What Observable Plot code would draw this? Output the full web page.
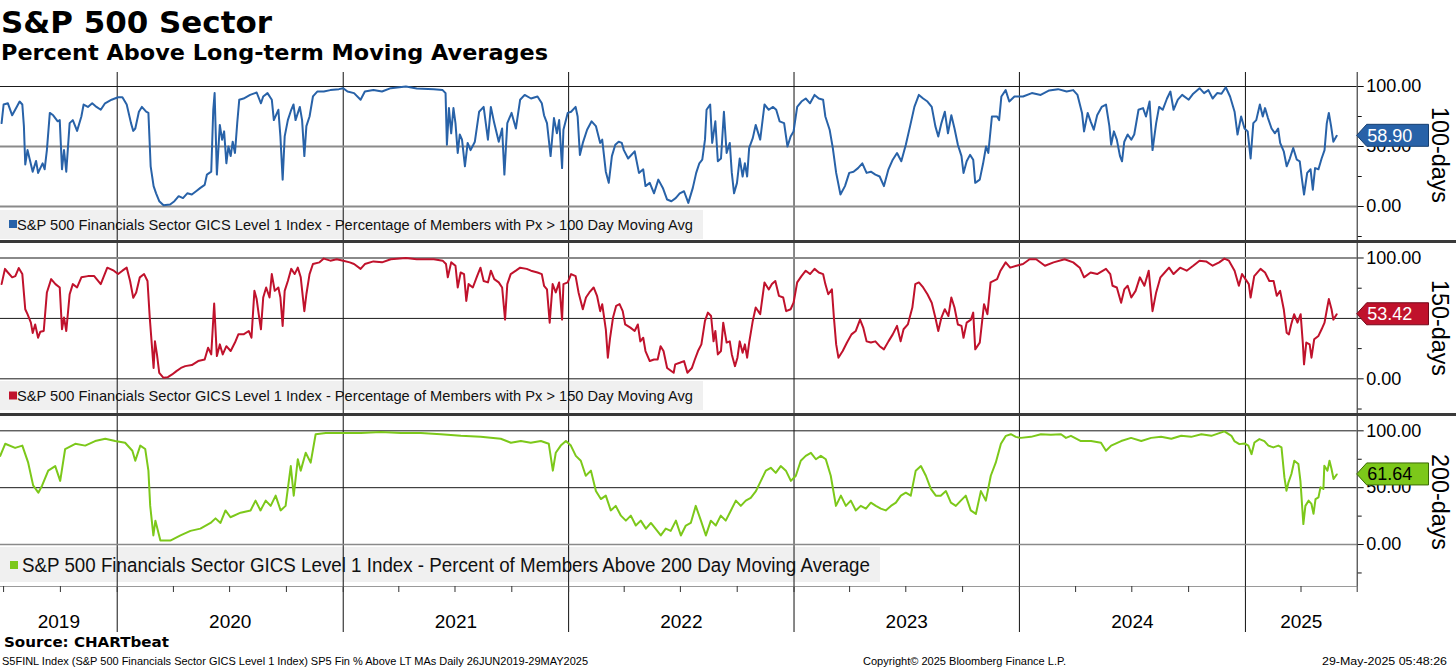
<!DOCTYPE html>
<html><head><meta charset="utf-8">
<script src="https://cdn.jsdelivr.net/npm/d3@7"></script>
<script src="https://cdn.jsdelivr.net/npm/@observablehq/plot@0.6"></script>
<style>
html,body{margin:0;padding:0;background:#fff;}
#root{position:relative;width:1456px;height:668px;overflow:hidden;background:#fff;}
#root > *{position:absolute;left:0;}
</style></head><body><div id="root"></div>
<script>
// ---- data: [decimal year, percent] ----
const s100 = [[2019.487,69.5],[2019.496,85],[2019.515,86],[2019.534,76],[2019.554,83],[2019.567,87.5],[2019.579,85],[2019.586,67],[2019.592,35],[2019.602,47],[2019.611,40],[2019.625,29],[2019.640,38],[2019.649,28],[2019.669,36],[2019.678,31],[2019.688,47],[2019.701,78],[2019.716,76],[2019.736,71],[2019.745,72],[2019.755,31],[2019.764,47],[2019.774,29],[2019.789,69.5],[2019.803,72],[2019.822,63],[2019.841,75],[2019.851,85],[2019.870,83],[2019.889,86],[2019.908,83],[2019.927,80.6],[2019.946,86],[2019.975,89],[2020.004,91],[2020.023,91],[2020.042,85],[2020.061,69.5],[2020.071,63],[2020.080,65],[2020.096,79],[2020.109,83],[2020.128,79],[2020.138,78],[2020.148,33.5],[2020.161,17],[2020.172,11],[2020.186,4.4],[2020.205,1],[2020.234,1.7],[2020.253,4.4],[2020.272,8.6],[2020.291,7],[2020.310,11],[2020.330,10],[2020.349,12.7],[2020.368,15.5],[2020.387,18],[2020.397,26.6],[2020.416,29],[2020.425,80.6],[2020.431,94.5],[2020.441,26.6],[2020.454,68],[2020.464,55.7],[2020.473,62.6],[2020.483,36],[2020.492,50],[2020.502,42],[2020.511,54],[2020.521,44.6],[2020.531,69.5],[2020.540,89],[2020.559,90],[2020.588,93],[2020.617,95],[2020.636,86],[2020.646,91.7],[2020.665,94.5],[2020.684,89],[2020.693,72],[2020.713,80.6],[2020.722,58.4],[2020.732,22.4],[2020.741,58.4],[2020.755,72],[2020.770,80.6],[2020.780,85],[2020.789,72],[2020.808,83],[2020.818,72],[2020.828,42],[2020.837,67],[2020.851,75],[2020.866,91.7],[2020.885,95.8],[2020.914,95.8],[2020.943,97],[2020.981,97.8],[2021.000,98.6],[2021.019,95.8],[2021.048,94.5],[2021.077,89],[2021.096,95.8],[2021.134,97],[2021.172,95.8],[2021.211,98.6],[2021.278,100],[2021.326,98.3],[2021.402,97.8],[2021.441,97],[2021.454,94.5],[2021.460,51.5],[2021.469,82],[2021.479,61],[2021.489,82],[2021.498,69.5],[2021.508,44.6],[2021.517,60],[2021.527,55.7],[2021.540,33.5],[2021.552,53],[2021.565,47],[2021.584,54],[2021.603,79],[2021.623,83],[2021.642,55.7],[2021.655,83],[2021.670,69.5],[2021.690,54],[2021.705,65],[2021.715,26.6],[2021.728,69.5],[2021.747,78],[2021.766,65],[2021.785,89],[2021.805,93],[2021.833,90],[2021.862,91.7],[2021.881,86],[2021.891,76],[2021.904,69.5],[2021.920,42],[2021.935,73.7],[2021.948,61],[2021.958,72],[2021.971,32],[2021.977,64],[2021.996,78],[2022.011,79],[2022.031,83],[2022.040,75],[2022.050,43],[2022.063,53],[2022.082,64],[2022.102,71],[2022.121,67],[2022.140,53],[2022.149,55.7],[2022.165,29],[2022.178,19.7],[2022.192,42],[2022.207,51.5],[2022.222,54],[2022.236,53],[2022.245,47],[2022.264,40],[2022.293,46],[2022.312,28],[2022.331,31],[2022.341,17],[2022.360,19.7],[2022.379,11],[2022.398,22.4],[2022.418,15.5],[2022.437,5.8],[2022.456,4.4],[2022.475,7],[2022.493,11],[2022.512,12.7],[2022.531,3],[2022.551,15.5],[2022.566,28],[2022.580,36],[2022.593,39],[2022.605,55.7],[2022.612,80.6],[2022.628,85],[2022.637,53],[2022.651,71],[2022.662,37.7],[2022.676,40],[2022.689,79],[2022.701,44.6],[2022.715,53],[2022.724,28],[2022.734,11],[2022.747,19.7],[2022.759,40],[2022.772,25],[2022.782,36],[2022.792,25],[2022.801,48.8],[2022.817,57],[2022.830,68],[2022.850,55.7],[2022.869,85],[2022.888,80.6],[2022.907,83],[2022.921,80.6],[2022.936,71],[2022.956,69.5],[2022.971,50],[2022.985,58.4],[2022.998,62.6],[2023.014,83],[2023.033,87.5],[2023.052,90],[2023.071,86],[2023.091,93],[2023.110,90],[2023.129,89],[2023.139,75],[2023.158,64],[2023.172,48.8],[2023.187,28],[2023.206,10],[2023.226,17],[2023.245,28],[2023.264,29],[2023.284,32],[2023.303,36],[2023.322,28],[2023.341,29],[2023.361,26.6],[2023.380,25],[2023.399,17],[2023.419,31],[2023.438,39],[2023.457,44.6],[2023.476,37.7],[2023.496,51.5],[2023.515,67],[2023.534,83],[2023.554,93],[2023.573,90],[2023.592,87.5],[2023.611,83],[2023.627,67],[2023.640,58.4],[2023.654,69.5],[2023.669,79],[2023.683,61],[2023.698,76],[2023.712,65],[2023.727,51.5],[2023.743,42],[2023.752,28],[2023.766,37.7],[2023.781,43],[2023.795,39],[2023.804,19.7],[2023.824,22.4],[2023.839,36],[2023.852,50],[2023.862,44.6],[2023.878,75],[2023.901,75],[2023.910,72],[2023.920,91.7],[2023.939,97],[2023.955,87.5],[2023.978,91.7],[2024.016,91.7],[2024.055,94.5],[2024.094,93],[2024.132,96.7],[2024.171,97.8],[2024.209,95.8],[2024.238,97],[2024.257,93],[2024.277,78],[2024.286,62.6],[2024.302,78],[2024.315,71],[2024.329,64],[2024.344,76],[2024.364,83],[2024.383,85],[2024.398,67],[2024.406,51.5],[2024.418,62.6],[2024.431,55.7],[2024.445,42],[2024.454,37.7],[2024.464,54],[2024.479,60],[2024.495,55.7],[2024.508,60],[2024.527,80.6],[2024.547,82],[2024.560,75],[2024.576,87.5],[2024.589,47],[2024.605,69.5],[2024.618,83],[2024.634,80.6],[2024.653,90],[2024.668,95.8],[2024.682,80.6],[2024.701,89],[2024.720,93],[2024.749,89],[2024.769,94],[2024.797,98.6],[2024.817,94.5],[2024.836,97],[2024.855,90],[2024.875,94.5],[2024.894,94],[2024.913,99.4],[2024.932,91.7],[2024.952,79],[2024.965,60],[2024.981,75],[2024.996,65],[2025.010,62.6],[2025.023,40],[2025.035,69.5],[2025.048,72],[2025.064,85],[2025.077,75],[2025.087,82],[2025.100,73.7],[2025.116,65],[2025.131,61],[2025.145,65],[2025.154,53],[2025.170,46],[2025.183,33.5],[2025.197,40],[2025.212,48.8],[2025.228,39],[2025.241,37.7],[2025.251,22.4],[2025.260,10],[2025.274,28],[2025.289,31],[2025.299,14],[2025.309,32],[2025.324,31],[2025.338,40],[2025.351,47],[2025.361,69.5],[2025.370,78],[2025.380,67],[2025.390,54],[2025.405,58.9]];

const s150 = [[2019.487,78.4],[2019.502,91],[2019.515,88],[2019.534,84],[2019.548,85],[2019.563,91.7],[2019.579,86.7],[2019.592,57.6],[2019.602,53.5],[2019.617,46.5],[2019.625,38],[2019.636,45],[2019.649,34],[2019.659,39],[2019.674,39.6],[2019.688,71.5],[2019.707,82.5],[2019.726,78.4],[2019.745,75.6],[2019.755,41],[2019.764,50.7],[2019.774,39.6],[2019.789,70],[2019.803,78.4],[2019.822,75.6],[2019.841,84],[2019.870,85],[2019.898,85],[2019.927,78.4],[2019.956,92],[2019.985,89.5],[2020.004,86.7],[2020.023,89.5],[2020.042,92],[2020.057,81],[2020.071,67],[2020.084,71.5],[2020.100,84],[2020.119,86.7],[2020.134,81],[2020.144,50.7],[2020.153,28.5],[2020.161,9],[2020.167,31],[2020.176,20],[2020.186,5],[2020.205,0.8],[2020.224,1.4],[2020.243,3.6],[2020.262,6.4],[2020.282,9],[2020.301,10.5],[2020.330,11.4],[2020.358,14.7],[2020.387,16],[2020.402,25.8],[2020.416,20.2],[2020.429,62.3],[2020.441,18.8],[2020.454,28.5],[2020.467,20.2],[2020.483,27],[2020.502,23],[2020.521,30],[2020.536,36.8],[2020.559,36.8],[2020.582,39.6],[2020.594,34],[2020.607,72.8],[2020.617,66],[2020.626,53.5],[2020.636,41],[2020.646,67.3],[2020.659,75.6],[2020.674,67.3],[2020.684,86.7],[2020.697,72.8],[2020.713,75.6],[2020.722,67.3],[2020.732,43.8],[2020.741,72.8],[2020.755,81],[2020.770,91],[2020.785,86.7],[2020.799,92],[2020.812,84],[2020.828,56],[2020.837,70],[2020.851,86.7],[2020.866,95],[2020.895,96.4],[2020.914,99.5],[2020.943,97.8],[2020.971,99],[2021.000,97.8],[2021.029,96.4],[2021.048,95],[2021.077,91],[2021.096,95],[2021.134,97.2],[2021.172,96.4],[2021.211,99],[2021.278,100],[2021.326,99],[2021.402,99],[2021.441,97.8],[2021.456,95],[2021.464,84],[2021.479,96.4],[2021.498,93.6],[2021.508,75.6],[2021.521,88],[2021.536,86.7],[2021.546,64.5],[2021.556,78.4],[2021.575,75.6],[2021.594,85],[2021.609,92],[2021.623,81],[2021.642,79.8],[2021.655,89.5],[2021.670,82.5],[2021.690,79.8],[2021.705,75.6],[2021.718,49],[2021.728,78.4],[2021.743,86.7],[2021.766,89.5],[2021.785,92],[2021.814,91],[2021.833,89.5],[2021.862,88],[2021.881,86.7],[2021.891,77],[2021.904,74],[2021.916,46.5],[2021.929,78.4],[2021.943,71.5],[2021.958,79.8],[2021.971,49],[2021.977,78.4],[2021.996,79.8],[2022.011,86.7],[2022.031,85],[2022.044,71.5],[2022.063,57.6],[2022.077,67.3],[2022.092,71.5],[2022.111,75.6],[2022.126,68.7],[2022.140,56],[2022.149,61.8],[2022.165,41],[2022.174,17.5],[2022.184,34],[2022.197,50.7],[2022.211,60.4],[2022.226,61.8],[2022.240,56],[2022.251,45],[2022.274,42.4],[2022.293,39.6],[2022.307,45],[2022.318,31],[2022.331,34],[2022.341,23],[2022.360,14.7],[2022.379,16],[2022.395,16],[2022.408,27],[2022.421,23],[2022.437,9],[2022.466,5],[2022.473,12],[2022.493,13.3],[2022.512,14.7],[2022.527,5],[2022.547,9],[2022.560,16],[2022.574,23],[2022.589,28.5],[2022.605,47.9],[2022.618,54.8],[2022.632,52],[2022.643,31],[2022.651,39.6],[2022.662,20.2],[2022.676,23],[2022.686,46.5],[2022.701,30],[2022.715,31],[2022.724,20.2],[2022.738,10.5],[2022.749,17.5],[2022.759,31],[2022.772,21.6],[2022.782,28.5],[2022.792,17.5],[2022.801,30],[2022.817,47.9],[2022.830,59],[2022.850,53.5],[2022.869,79.8],[2022.888,74],[2022.902,78.4],[2022.917,81],[2022.933,68.7],[2022.952,67.3],[2022.965,56],[2022.985,57.6],[2022.998,63],[2023.014,79.8],[2023.033,85],[2023.052,89.5],[2023.071,86.7],[2023.091,91],[2023.110,88],[2023.129,86.7],[2023.139,78.4],[2023.152,70],[2023.168,74],[2023.177,50.7],[2023.187,28.5],[2023.197,17.5],[2023.216,23],[2023.235,30],[2023.255,36.8],[2023.274,39.6],[2023.293,49],[2023.307,42.4],[2023.322,31],[2023.341,30],[2023.361,31],[2023.380,27],[2023.399,24.4],[2023.419,31],[2023.438,36.8],[2023.457,43.8],[2023.473,31],[2023.486,41],[2023.505,45],[2023.525,59],[2023.538,78.4],[2023.554,79.8],[2023.573,75.6],[2023.592,70],[2023.611,63],[2023.627,50.7],[2023.640,39.6],[2023.654,50.7],[2023.669,57.6],[2023.685,52],[2023.698,67.3],[2023.712,59],[2023.727,45],[2023.743,43.8],[2023.752,34],[2023.766,46.5],[2023.785,49],[2023.795,54.8],[2023.804,24.4],[2023.824,30],[2023.843,61.8],[2023.858,53.5],[2023.872,79.8],[2023.901,82.5],[2023.916,89.5],[2023.939,96.4],[2023.959,92],[2023.987,93.6],[2024.016,95],[2024.045,99],[2024.074,99],[2024.113,93.6],[2024.151,96.4],[2024.200,99],[2024.238,96.4],[2024.267,92],[2024.286,84],[2024.315,88],[2024.344,86.7],[2024.383,91],[2024.402,86.7],[2024.412,77],[2024.431,75.6],[2024.450,63],[2024.464,74],[2024.479,77],[2024.495,67.3],[2024.514,72.8],[2024.533,84],[2024.553,77],[2024.572,89.5],[2024.589,56],[2024.605,71.5],[2024.624,84],[2024.643,88],[2024.662,92],[2024.682,86.7],[2024.711,92],[2024.740,89.5],[2024.769,93.6],[2024.797,97.8],[2024.826,97.2],[2024.855,93.6],[2024.884,96.4],[2024.907,99.5],[2024.927,97.8],[2024.952,89.5],[2024.971,77],[2024.985,86.7],[2025.000,82.5],[2025.015,78.4],[2025.023,67.3],[2025.039,85],[2025.067,91],[2025.087,88],[2025.106,81],[2025.125,81],[2025.139,68.7],[2025.154,72.8],[2025.170,57.6],[2025.183,38.2],[2025.193,36.8],[2025.203,45],[2025.216,53.5],[2025.231,46.5],[2025.245,53.5],[2025.255,28.5],[2025.260,12],[2025.270,30],[2025.285,28.5],[2025.293,17.5],[2025.305,32.7],[2025.324,35.5],[2025.338,41],[2025.351,46.5],[2025.363,59],[2025.370,66],[2025.382,57.6],[2025.390,49],[2025.405,53.42]];

const s200 = [[2019.481,78],[2019.503,88.6],[2019.547,85],[2019.579,87],[2019.605,72],[2019.627,52],[2019.650,45.6],[2019.667,52],[2019.694,65],[2019.725,69],[2019.747,56],[2019.756,67.5],[2019.769,84],[2019.814,88.6],[2019.858,87],[2019.902,91],[2019.947,93],[2019.991,91],[2020.035,89.5],[2020.067,82.5],[2020.080,73.7],[2020.102,87],[2020.124,84],[2020.138,65],[2020.146,34],[2020.160,8],[2020.169,21],[2020.191,3.5],[2020.235,3.5],[2020.280,8],[2020.324,12],[2020.368,14],[2020.413,19],[2020.435,23],[2020.457,19],[2020.479,30],[2020.501,24],[2020.546,28],[2020.590,30],[2020.612,38.6],[2020.634,30],[2020.657,38.6],[2020.679,34],[2020.701,43],[2020.723,30],[2020.745,34],[2020.768,69],[2020.781,43],[2020.799,75],[2020.812,65],[2020.834,80.7],[2020.856,72],[2020.878,97],[2020.923,98],[2020.989,98],[2021.078,98],[2021.167,99],[2021.256,98],[2021.344,98],[2021.433,97],[2021.522,95.6],[2021.610,94.7],[2021.699,93],[2021.744,89.5],[2021.788,91],[2021.832,89.5],[2021.877,91],[2021.912,88.6],[2021.930,65],[2021.943,80.7],[2021.965,87],[2021.988,91],[2022.010,87],[2022.032,78],[2022.054,73.7],[2022.076,60.5],[2022.099,65],[2022.121,47],[2022.143,40],[2022.165,43],[2022.187,30],[2022.209,34],[2022.232,25.4],[2022.254,21],[2022.276,25.4],[2022.298,16.7],[2022.320,21],[2022.343,14],[2022.365,19],[2022.409,8],[2022.431,14],[2022.453,12],[2022.476,21],[2022.498,8],[2022.520,16.7],[2022.542,19],[2022.564,34],[2022.587,21],[2022.609,8],[2022.631,21],[2022.653,16.7],[2022.675,25.4],[2022.697,21],[2022.720,30],[2022.742,38.6],[2022.764,34],[2022.786,38.6],[2022.808,41],[2022.831,47],[2022.853,56],[2022.875,65],[2022.897,67.5],[2022.919,63],[2022.941,69],[2022.964,65],[2022.986,56],[2023.008,60.5],[2023.030,73.7],[2023.052,78],[2023.075,80.7],[2023.097,75],[2023.119,78],[2023.141,75],[2023.163,60.5],[2023.186,34],[2023.208,43],[2023.230,34],[2023.252,38.6],[2023.274,30],[2023.296,34],[2023.319,31.6],[2023.341,36.8],[2023.363,34],[2023.385,31.6],[2023.407,30],[2023.430,34],[2023.452,36.8],[2023.474,43],[2023.496,45.6],[2023.518,43],[2023.540,65],[2023.563,69],[2023.585,60.5],[2023.607,49],[2023.629,43],[2023.651,43],[2023.674,47],[2023.696,36.8],[2023.718,34],[2023.740,38.6],[2023.762,43],[2023.784,30],[2023.807,27],[2023.829,47],[2023.851,38.6],[2023.873,60.5],[2023.895,72],[2023.918,88.6],[2023.940,95.6],[2023.962,97],[2023.984,94.7],[2024.006,93.8],[2024.051,94.7],[2024.095,97],[2024.139,96.5],[2024.184,97],[2024.206,93.8],[2024.228,95.6],[2024.272,91],[2024.317,91],[2024.361,89.5],[2024.383,82.5],[2024.406,87],[2024.450,91],[2024.494,93.8],[2024.539,91],[2024.583,93.8],[2024.627,94.7],[2024.672,93],[2024.716,95.6],[2024.760,94.7],[2024.805,97],[2024.849,95.6],[2024.907,99.5],[2024.938,95.6],[2024.951,91],[2024.973,88.3],[2024.996,88.9],[2025.013,87],[2025.027,79.5],[2025.040,89.7],[2025.062,92.7],[2025.084,91],[2025.102,87],[2025.124,85.4],[2025.146,87],[2025.160,85.4],[2025.173,59],[2025.182,47.4],[2025.191,54.7],[2025.204,62],[2025.217,73.7],[2025.235,70.8],[2025.244,56],[2025.257,18],[2025.266,34],[2025.280,38.6],[2025.293,35.7],[2025.302,27],[2025.311,40],[2025.324,41.5],[2025.333,50.3],[2025.346,48.9],[2025.350,69.3],[2025.364,65],[2025.373,73.7],[2025.382,66.4],[2025.391,57.6],[2025.405,61.64]];

const lastLabels = ["58.90", "53.42", "61.64"];
const sideLabels = ["100-days", "150-days", "200-days"];
const legendTexts = [
  "S&P 500 Financials Sector GICS Level 1 Index - Percentage of Members with Px > 100 Day Moving Avg",
  "S&P 500 Financials Sector GICS Level 1 Index - Percentage of Members with Px > 150 Day Moving Avg",
  "S&P 500 Financials Sector GICS Level 1 Index - Percent of Members Above 200 Day Moving Average"
];
const yearLabels = ["2019","2020","2021","2022","2023","2024","2025"];
const majorTicks = [0, 50, 100];
const minorTicks = [-25, 25, 75];
const titleText = "S&P 500 Sector";
const subtitleText = "Percent Above Long-term Moving Averages";
const sourceText = "Source: CHARTbeat";
const footLeft = "S5FINL Index (S&P 500 Financials Sector GICS Level 1 Index) SP5 Fin % Above LT MAs  Daily 26JUN2019-29MAY2025";
const footMid = "Copyright\u00A9 2025 Bloomberg Finance L.P.";
const footRight = "29-May-2025 05:48:26";

// ---- helpers ----
function toDate(t){const y=Math.floor(t);const a=Date.UTC(y,0,1),b=Date.UTC(y+1,0,1);return new Date(a+(t-y)*(b-a));}
const W = 1456, plotRight = 1356.7, mR = W - plotRight;
const xDomain = [new Date(Date.UTC(2019,5,26)), new Date(Date.UTC(2025,6,1))];
const yearStarts = d3.range(2020, 2026).map(y => new Date(Date.UTC(y,0,1)));
const quarters = d3.utcMonth.every(3).range(new Date(Date.UTC(2019,6,1)), new Date(Date.UTC(2025,6,2)));
const yearMid = yearLabels.map(l => {
  const y = +l; const a = Math.max(+xDomain[0], Date.UTC(y,0,1)); const b = Math.min(+xDomain[1], Date.UTC(y+1,0,1));
  return {label: l, mid: new Date((a+b)/2)};
});
const FONT = "'Liberation Sans', Arial, sans-serif";
const baseStyle = {background:"transparent", overflow:"visible", fontFamily:FONT, fontSize:"18px", color:"#000"};

const panels = [
  {data:s100, color:"#2862a8", edge:"#163f70", txt:"#fff", top:72, height:168, mb:0, domain:[-28.33,111.67], black:[100], gray:[0,50], grayW:2, labelY:155,
   legend:{y:210, h:29, w:703, sq:[9,220], tx:17, base:229.5, len:676, fs:15}},
  {data:s150, color:"#c0122c", edge:"#74091a", txt:"#fff", top:243, height:170, mb:0, domain:[-28.7,112.0], black:[0,50], gray:[100], grayW:2, labelY:328,
   legend:{y:381, h:29, w:703, sq:[9,391.5], tx:17, base:401, len:676, fs:15}},
  {data:s200, color:"#7cc81a", edge:"#3b6a05", txt:"#000", top:416, height:184, mb:14, domain:[-36.9,112.6], black:[50,100], gray:[0], grayW:1.5, labelY:502, xaxis:true,
   legend:{y:547, h:35, w:880, sq:[10,561], tx:22, base:572, len:848, fs:20}}
];

const root = document.getElementById("root");

// underlay: legend boxes
const under = d3.create("svg").attr("width", W).attr("height", 668).style("top","0px");
panels.forEach((p,i) => {
  const L = p.legend;
  under.append("rect").attr("x",0).attr("y",L.y).attr("width",L.w).attr("height",L.h).attr("fill","#f0f0f0");
  under.append("rect").attr("x",L.sq[0]).attr("y",L.sq[1]).attr("width",8).attr("height",8).attr("fill",p.color);
  under.append("text").attr("x",L.tx).attr("y",L.base).attr("font-family",FONT).attr("font-size",L.fs)
    .attr("textLength",L.len).attr("lengthAdjust","spacingAndGlyphs").attr("fill","#111").text(legendTexts[i]);
});
root.appendChild(under.node());

// frame: year separators
const frame = Plot.plot({
  width:W, height:560, marginLeft:0, marginRight:mR, marginTop:0, marginBottom:0,
  x:{type:"utc", domain:xDomain, axis:null}, y:{axis:null},
  style:baseStyle,
  marks:[Plot.ruleX(yearStarts, {stroke:"#111", strokeWidth:1})]
});
frame.style.top = "72px";
root.appendChild(frame);

// panels
const plots = panels.map(p => {
  const data = p.data.map(([t,v]) => ({date:toDate(t), v}));
  const marks = [
    Plot.ruleY(p.gray, {stroke:"#8a8a8a", strokeWidth:p.grayW}),
    Plot.ruleY(p.black, {stroke:"#1a1a1a", strokeWidth:1}),
    Plot.ruleX([xDomain[1]], {stroke:"#1a1a1a", strokeWidth:1}),
    Plot.line(data, {x:"date", y:"v", stroke:p.color, strokeWidth:2}),
    Plot.axisY({anchor:"right", ticks:majorTicks, tickFormat:d=>d.toFixed(2), tickSize:6, tickPadding:3, label:null, fontSize:18, stroke:"#111"}),
    Plot.axisY({anchor:"right", ticks:minorTicks, tickFormat:()=>"", tickSize:4, label:null, stroke:"#111"})
  ];
  if (p.xaxis) {
    marks.push(Plot.ruleY([p.domain[0]], {stroke:"#9a9a9a", strokeWidth:1}));
    marks.push(Plot.axisX({anchor:"bottom", ticks:quarters, tickFormat:()=>"", tickSize:6, label:null, stroke:"#333"}));
  }
  const el = Plot.plot({
    width:W, height:p.height, marginLeft:0, marginRight:mR, marginTop:0, marginBottom:p.mb,
    x: p.xaxis ? {type:"utc", domain:xDomain} : {type:"utc", domain:xDomain, axis:null},
    y:{domain:p.domain},
    style:baseStyle, marks
  });
  el.style.top = p.top + "px";
  root.appendChild(el);
  return el;
});

// year labels
const lab = Plot.plot({
  width:W, height:42, marginLeft:0, marginRight:mR, marginTop:0, marginBottom:0,
  x:{type:"utc", domain:xDomain, axis:null}, y:{axis:null},
  style:baseStyle,
  marks:[Plot.text(yearMid, {x:"mid", text:"label", fontSize:19, fill:"#000"})]
});
lab.style.top = "600px";
root.appendChild(lab);

// overlay
const over = d3.create("svg").attr("width", W).attr("height", 668).style("top","0px");
over.append("rect").attr("x",0).attr("y",240).attr("width",W).attr("height",3).attr("fill","#3a3a3a");
over.append("rect").attr("x",0).attr("y",413).attr("width",W).attr("height",3).attr("fill","#3a3a3a");
panels.forEach((p,i) => {
  const last = p.data[p.data.length-1][1];
  const yc = p.top + plots[i].scale("y").apply(last);
  const x0 = plotRight, x1 = plotRight + 10, x2 = 1428.5, h = 11;
  over.append("polygon").attr("points", `${x0},${yc} ${x1},${yc-h} ${x2},${yc-h} ${x2},${yc+h} ${x1},${yc+h}`)
    .attr("fill", p.color).attr("stroke", p.edge).attr("stroke-width", 1);
  over.append("text").attr("x", x1+0.5).attr("y", yc+6.5).attr("font-family",FONT).attr("font-size",18)
    .attr("fill", p.txt).text(lastLabels[i]);
  over.append("text").attr("transform",`translate(1440,${p.labelY}) rotate(90)`).attr("text-anchor","middle")
    .attr("dominant-baseline","central").attr("font-family",FONT).attr("font-size",23)
    .attr("textLength",96).attr("lengthAdjust","spacingAndGlyphs").attr("fill","#000").text(sideLabels[i]);
});
const T = (x,y,txt,opt) => {
  const t = over.append("text").attr("x",x).attr("y",y).attr("font-family",opt.f||FONT).attr("font-size",opt.s)
    .attr("font-weight",opt.w||"normal").attr("fill","#000").text(txt);
  if (opt.len) t.attr("textLength",opt.len).attr("lengthAdjust","spacingAndGlyphs");
};
T(1, 33, titleText, {f:"'DejaVu Sans', sans-serif", s:30, w:"bold", len:271});
T(1, 60, subtitleText, {f:"'DejaVu Sans', sans-serif", s:22, w:"bold", len:547});
T(4, 647, sourceText, {f:"'DejaVu Sans', sans-serif", s:14.5, w:"bold", len:165});
T(2, 664.5, footLeft, {s:10.5, len:586});
T(863, 664.5, footMid, {s:10.5, len:203});
T(1322, 664.5, footRight, {s:10.5, len:125});
root.appendChild(over.node());
</script>
</body></html>
